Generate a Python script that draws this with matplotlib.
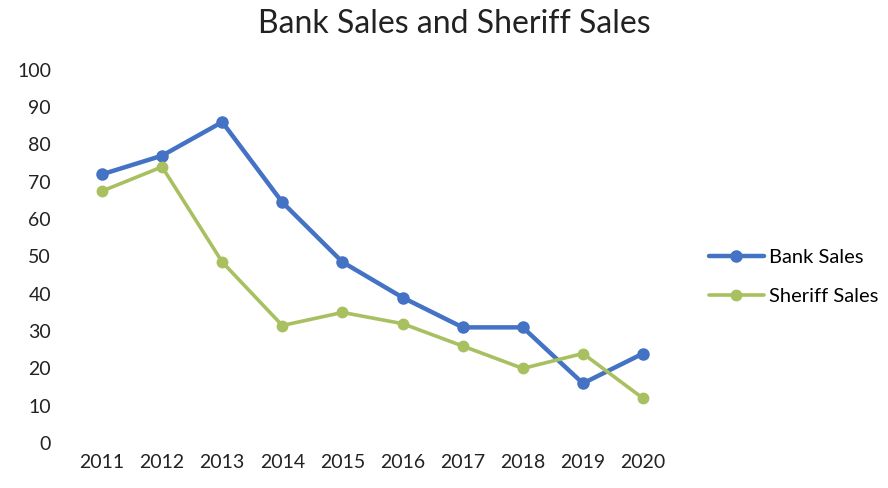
import matplotlib
matplotlib.use("Agg")
import matplotlib.pyplot as plt

years = ["2011", "2012", "2013", "2014", "2015", "2016", "2017", "2018", "2019", "2020"]
bank_sales = [72, 77, 86, 64.5, 48.5, 39, 31, 31, 16, 24]
sheriff_sales = [67.5, 74, 48.5, 31.5, 35, 32, 26, 20, 24, 12]

plt.rcParams['font.family'] = ['Lato', 'DejaVu Sans']

fig = plt.figure(figsize=(8.88, 4.88), dpi=100)
ax = fig.add_axes([0.081, 0.092, 0.677, 0.765])

x = list(range(len(years)))
ax.plot(x, bank_sales, color="#4472C4", lw=3.2, marker="o", markersize=8,
        label="Bank Sales", solid_capstyle="round")
ax.plot(x, sheriff_sales, color="#A8C060", lw=2.6, marker="o", markersize=7.5,
        label="Sheriff Sales", solid_capstyle="round")

ax.set_xlim(-0.5, len(years) - 0.5)
ax.set_ylim(0, 100)
ax.set_yticks(range(0, 101, 10))
ax.set_xticks(x)
ax.set_xticklabels(years)
for s in ax.spines.values():
    s.set_visible(False)
ax.tick_params(length=0, labelsize=14, colors="#222222", pad=8)
ax.tick_params(axis='y', pad=15)

fig.suptitle("Bank Sales and Sheriff Sales", fontsize=23, y=0.982, x=0.512, color="#222222")

leg = ax.legend(loc="center left", bbox_to_anchor=(1.03, 0.445), frameon=False,
                fontsize=14.5, handlelength=2.7, handletextpad=0.25, labelspacing=1.05)

fig.savefig("out.png", dpi=100, facecolor="white")
